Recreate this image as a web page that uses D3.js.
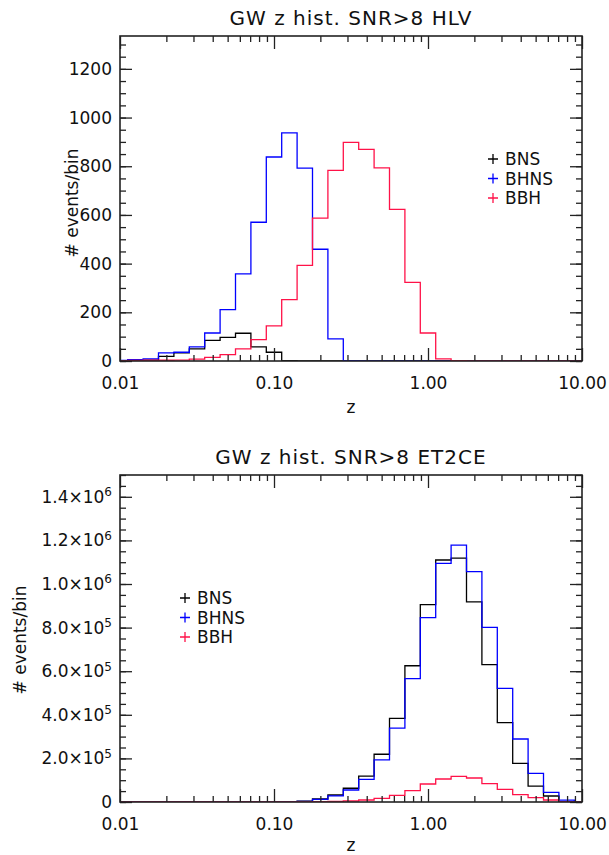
<!DOCTYPE html>
<html>
<head>
<meta charset="utf-8">
<script src="https://cdn.jsdelivr.net/npm/d3@7"></script>
<style>
  body { margin: 0; background: #fff; }
  svg text { font-family: "DejaVu Sans", sans-serif; fill: #111; }
</style>
</head>
<body>
<svg id="chart" width="609" height="855"></svg>
<script>
// bins are 0.1 dex wide, centred on log10(z) = -2.0, -1.9, ... , 1.0
var bin_log_start = -2.05, bin_width = 0.1;

var names = ["BNS", "BHNS", "BBH"];
var colors = ["#000000", "#0000ff", "#ff1248"];

// HLV detector network, events per bin
var bns_hlv  = [0, 2, 3, 19, 33, 50, 85, 97, 114, 58, 36, 1, 0, 0, 0, 0, 0, 0, 0, 0, 0, 0, 0, 0, 0, 0, 0, 0, 0, 0, 0];
var bhns_hlv = [2, 6, 9, 33, 36, 58, 115, 211, 358, 570, 838, 937, 792, 459, 91, 1, 0, 0, 0, 0, 0, 0, 0, 0, 0, 0, 0, 0, 0, 0, 0];
var bbh_hlv  = [1, 2, 3, 3, 4, 8, 15, 26, 50, 88, 144, 252, 393, 587, 783, 898, 869, 793, 623, 323, 115, 9, 1, 0, 0, 0, 0, 0, 0, 0, 0];

// ET2CE detector network, events per bin
var bns_et  = [0, 0, 0, 0, 0, 0, 0, 0, 0, 0, 500, 2000, 4000, 14000, 32000, 63000, 119000, 219000, 384000, 625000, 905000, 1110000, 1119000, 918000, 630000, 364000, 177000, 73000, 27500, 1500, 0];
var bhns_et = [0, 0, 0, 0, 0, 0, 0, 0, 0, 0, 300, 1500, 3000, 12000, 28000, 55000, 104000, 193000, 339000, 566000, 846000, 1095000, 1178000, 1057000, 801000, 521000, 289000, 131000, 44000, 9000, 0];
var bbh_et  = [0, 0, 0, 0, 0, 0, 0, 0, 0, 0, 200, 500, 1000, 1500, 2500, 4600, 9200, 16800, 30600, 52000, 82600, 105500, 117700, 110000, 84000, 58000, 33600, 19900, 9200, 1500, 0];

var x_ticks = [0.01, 0.1, 1, 10];
var x_tick_labels = ["0.01", "0.10", "1.00", "10.00"];

var hlv_y_ticks = [0, 200, 400, 600, 800, 1000, 1200];
var et_y_ticks = [0, 2e5, 4e5, 6e5, 8e5, 1e6, 1.2e6, 1.4e6];
var et_y_labels = [["0", ""], ["2.0\u00d710", "5"], ["4.0\u00d710", "5"], ["6.0\u00d710", "5"],
                   ["8.0\u00d710", "5"], ["1.0\u00d710", "6"], ["1.2\u00d710", "6"], ["1.4\u00d710", "6"]];

var svg = d3.select("#chart");

var draw_panel = function(opt) {
  var left = 120, right = 582, top = opt.top, bottom = opt.bottom;

  var x = d3.scaleLog().domain([0.01, 10]).range([left, right]);
  var y = d3.scaleLinear().domain([0, opt.ymax]).range([bottom, top]);

  var g = svg.append("g");

  var clip_id = "clip" + opt.id;
  g.append("clipPath").attr("id", clip_id)
    .append("rect").attr("x", left).attr("y", top)
    .attr("width", right - left).attr("height", bottom - top);

  // histograms
  var line = d3.line()
    .x(function(d) { return x(d[0]); })
    .y(function(d) { return y(d[1]); })
    .curve(d3.curveStepAfter);

  opt.series.forEach(function(values, k) {
    var pts = values.map(function(v, i) {
      return [Math.pow(10, bin_log_start + i * bin_width), v];
    });
    pts.push([Math.pow(10, bin_log_start + values.length * bin_width), values[values.length - 1]]);
    g.append("path")
      .attr("clip-path", "url(#" + clip_id + ")")
      .attr("d", line(pts))
      .attr("fill", "none")
      .attr("stroke", colors[k])
      .attr("stroke-width", 1.3);
  });

  // x axis minor ticks (2..9 per decade)
  var x_minor = x.ticks().filter(function(t) { return x_ticks.indexOf(t) < 0; });

  g.append("g").attr("transform", "translate(0," + bottom + ")")
    .call(d3.axisBottom(x).tickValues(x_minor).tickSize(-6).tickFormat(""));
  g.append("g").attr("transform", "translate(0," + top + ")")
    .call(d3.axisTop(x).tickValues(x_minor).tickSize(-6).tickFormat(""));
  g.append("g").attr("transform", "translate(0," + bottom + ")")
    .call(d3.axisBottom(x).tickValues(x_ticks).tickSize(-13).tickPadding(16)
      .tickFormat(function(d, i) { return x_tick_labels[i]; }));
  g.append("g").attr("transform", "translate(0," + top + ")")
    .call(d3.axisTop(x).tickValues(x_ticks).tickSize(-13).tickFormat(""));

  // y axis
  var y_minor = d3.range(0, opt.ymax + 1, opt.ystep / 4);
  g.append("g").attr("transform", "translate(" + left + ",0)")
    .call(d3.axisLeft(y).tickValues(y_minor).tickSize(-6).tickFormat(""));
  g.append("g").attr("transform", "translate(" + right + ",0)")
    .call(d3.axisRight(y).tickValues(y_minor).tickSize(-6).tickFormat(""));
  var y_axis = g.append("g").attr("class", "yaxis").attr("transform", "translate(" + left + ",0)")
    .call(d3.axisLeft(y).tickValues(opt.yticks).tickSize(-12).tickPadding(8).tickFormat(opt.yformat));
  g.append("g").attr("transform", "translate(" + right + ",0)")
    .call(d3.axisRight(y).tickValues(opt.yticks).tickSize(-12).tickFormat(""));

  if (opt.ylabels) {
    y_axis.selectAll(".tick text").each(function(d, i) {
      var t = d3.select(this).text("");
      t.append("tspan").text(opt.ylabels[i][0]);
      t.append("tspan").attr("font-size", "12px").attr("dy", "-0.55em").text(opt.ylabels[i][1]);
    });
  }

  g.selectAll(".domain").remove();
  g.selectAll(".tick line").attr("stroke", "#222").attr("stroke-width", 1.3);
  g.selectAll(".tick text").attr("font-size", "17px").attr("fill", "#111")
    .attr("font-family", "DejaVu Sans, sans-serif");

  // frame
  g.append("rect")
    .attr("x", left).attr("y", top)
    .attr("width", right - left).attr("height", bottom - top)
    .attr("fill", "none").attr("stroke", "#222").attr("stroke-width", 1.6);

  // title and axis labels
  g.append("text")
    .attr("x", (left + right) / 2).attr("y", top - 11)
    .attr("text-anchor", "middle").attr("font-size", "20px")
    .attr("letter-spacing", "1px")
    .text(opt.title);

  g.append("text")
    .attr("x", (left + right) / 2).attr("y", bottom + opt.zlabel_dy)
    .attr("text-anchor", "middle").attr("font-size", "17px")
    .text("z");

  g.append("text")
    .attr("transform", "translate(" + opt.ylabel_x + "," + opt.ylabel_y + ") rotate(-90)")
    .attr("text-anchor", "middle").attr("font-size", "17px")
    .text("# events/bin");

  // legend
  var legend = g.append("g");
  names.forEach(function(name, k) {
    var ly = opt.legend_y + k * 19.5;
    legend.append("path")
      .attr("d", "M" + (opt.legend_x - 5) + "," + ly + "h10M" + opt.legend_x + "," + (ly - 5) + "v10")
      .attr("stroke", colors[k]).attr("stroke-width", 1.3);
    legend.append("text")
      .attr("x", opt.legend_x + 12).attr("y", ly + 6)
      .attr("font-size", "17px")
      .text(name);
  });
};

draw_panel({
  id: "hlv",
  top: 36, bottom: 361,
  ymax: 1335, ystep: 200,
  yticks: hlv_y_ticks,
  yformat: d3.format("d"),
  series: [bns_hlv, bhns_hlv, bbh_hlv],
  title: "GW z hist. SNR>8 HLV",
  ylabel_x: 78, ylabel_y: 203,
  zlabel_dy: 52,
  legend_x: 493, legend_y: 159
});

draw_panel({
  id: "et",
  top: 475, bottom: 802,
  ymax: 1.5e6, ystep: 2e5,
  yticks: et_y_ticks,
  yformat: function() { return ""; },
  ylabels: et_y_labels,
  series: [bns_et, bhns_et, bbh_et],
  title: "GW z hist. SNR>8 ET2CE",
  ylabel_x: 26, ylabel_y: 640,
  zlabel_dy: 49,
  legend_x: 185, legend_y: 598
});
</script>
</body>
</html>
